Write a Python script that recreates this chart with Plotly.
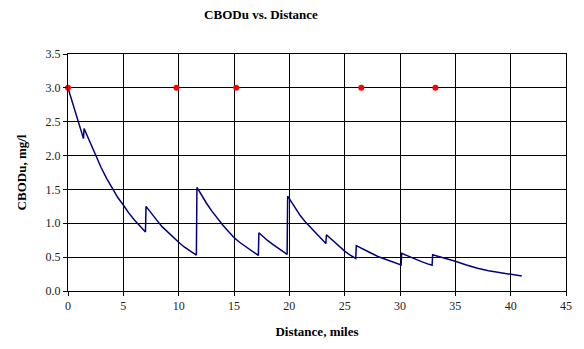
import plotly.graph_objects as go

# CBODu profile (distance in miles, concentration in mg/l)
dist = [0.0, 0.5, 1.0, 1.4, 1.45,
        2.0, 2.5, 3.0, 3.5, 4.0, 4.5, 5.0, 5.5, 6.0, 6.5, 7.0, 7.05,
        7.5, 8.0, 8.5, 9.0, 9.5, 10.0, 10.5, 11.0, 11.6, 11.65,
        12.0, 12.5, 13.0, 13.5, 14.0, 14.5, 15.0, 15.5, 16.0, 16.5, 17.2, 17.25,
        17.5, 18.0, 18.5, 19.0, 19.8, 19.85,
        20.0, 20.5, 21.0, 21.5, 22.0, 22.5, 23.3, 23.35,
        24.0, 24.5, 25.0, 25.5, 26.0, 26.05,
        26.5, 27.0, 27.5, 28.0, 28.5, 29.0, 29.5, 30.1, 30.15,
        30.5, 31.0, 31.5, 32.0, 32.5, 32.9, 32.95,
        33.5, 34.0, 35.0, 36.0, 37.0, 38.0, 39.0, 40.0, 41.0]
cbod = [3.00, 2.72, 2.46, 2.25, 2.40,
        2.19, 2.00, 1.82, 1.66, 1.51, 1.38, 1.27, 1.15, 1.05, 0.96, 0.87, 1.25,
        1.15, 1.05, 0.95, 0.87, 0.79, 0.72, 0.65, 0.60, 0.53, 1.53,
        1.43, 1.30, 1.18, 1.07, 0.97, 0.88, 0.79, 0.72, 0.66, 0.60, 0.525, 0.86,
        0.82, 0.75, 0.69, 0.63, 0.54, 1.40,
        1.36, 1.23, 1.11, 1.01, 0.92, 0.83, 0.70, 0.83,
        0.73, 0.66, 0.59, 0.53, 0.48, 0.67,
        0.63, 0.59, 0.55, 0.51, 0.48, 0.45, 0.42, 0.385, 0.555,
        0.53, 0.49, 0.46, 0.43, 0.40, 0.38, 0.535,
        0.51, 0.49, 0.44, 0.385, 0.335, 0.30, 0.275, 0.25, 0.22]

# Point loads (red markers)
load_dist = [0.0, 9.8, 15.2, 26.5, 33.2]
load_val = [3.0, 3.0, 3.0, 3.0, 3.0]

x_ticks = [0, 5, 10, 15, 20, 25, 30, 35, 40, 45]
y_ticks = [0.0, 0.5, 1.0, 1.5, 2.0, 2.5, 3.0, 3.5]

FONT = "'Liberation Serif', 'DejaVu Serif', serif"

fig = go.Figure()
fig.add_trace(go.Scatter(x=dist, y=cbod, mode="lines",
                         line=dict(color="#000080", width=1.5),
                         showlegend=False))
fig.add_trace(go.Scatter(x=load_dist, y=load_val, mode="markers",
                         marker=dict(color="#ff0000", size=6),
                         showlegend=False, cliponaxis=False))

fig.update_layout(
    width=584, height=349,
    margin=dict(l=68, r=16, t=54, b=57),
    paper_bgcolor="white", plot_bgcolor="white",
    font=dict(family=FONT, size=12, color="#222"),
    title=dict(text="<b>CBODu vs. Distance</b>",
               x=261 / 584, xref="container", xanchor="center",
               y=1 - 14 / 349, yref="container", yanchor="middle",
               font=dict(family=FONT, size=13, color="#000")),
)

fig.update_xaxes(range=[0, 45], tickvals=x_ticks, showgrid=True,
                 gridcolor="#000", gridwidth=1, showline=True, linecolor="#000",
                 linewidth=1, mirror=True, ticks="outside", ticklen=4,
                 tickcolor="#000", zeroline=False,
                 title=dict(text="<b>Distance, miles</b>", standoff=14,
                            font=dict(family=FONT, size=13, color="#000")),
                 tickfont=dict(family=FONT, size=12, color="#222"))
fig.update_yaxes(range=[0, 3.5], tickvals=y_ticks, tickformat=".1f", showgrid=True,
                 gridcolor="#000", gridwidth=1, showline=True, linecolor="#000",
                 linewidth=1, mirror=True, ticks="outside", ticklen=4,
                 tickcolor="#000", zeroline=False,
                 title=dict(text="<b>CBODu, mg/l</b>", standoff=16,
                            font=dict(family=FONT, size=13, color="#000")),
                 tickfont=dict(family=FONT, size=12, color="#222"))

fig.write_html("out.html")
